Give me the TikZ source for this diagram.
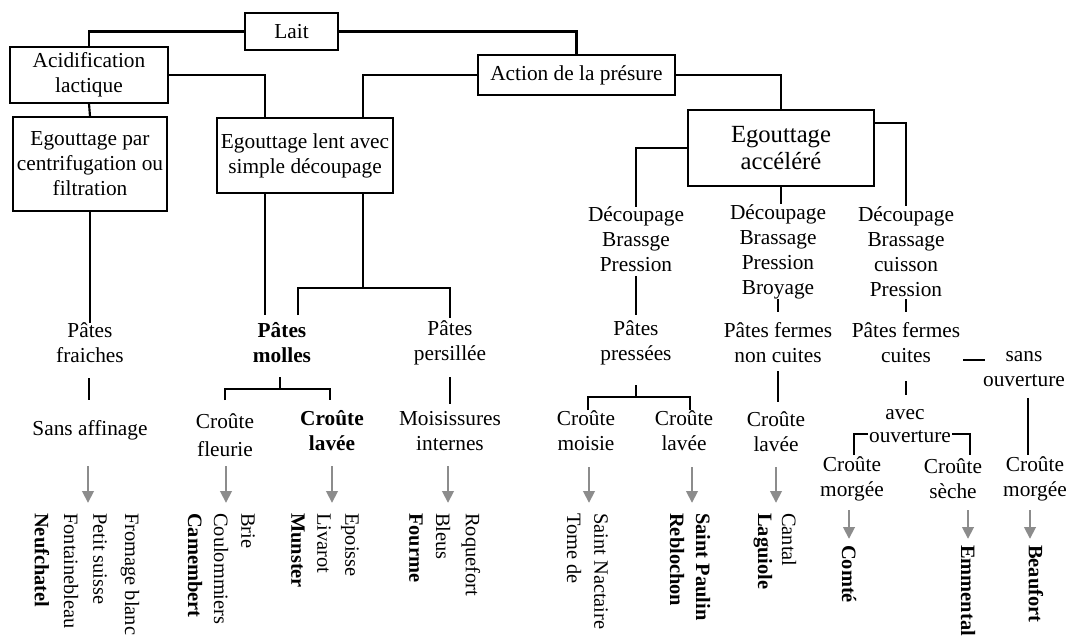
\documentclass[tikz,border=0pt]{standalone}
\usepackage{fontspec}
\setmainfont{Liberation Serif}
\usetikzlibrary{arrows.meta}
\begin{document}
\begin{tikzpicture}[x=0.75pt,y=-0.75pt,
  fnt/.style={font=\fontsize{16}{18.75}\selectfont},
  box/.style={draw, line width=1.1pt, align=center, inner sep=0pt, fnt},
  txt/.style={align=center, inner sep=0pt, fnt},
  rot/.style={rotate=-90, anchor=west, inner sep=0pt, font=\fontsize{15.3}{18}\selectfont},
  rotb/.style={rot, font=\fontsize{15.3}{18}\selectfont\bfseries},
  conn/.style={line width=1.6pt},
  tick/.style={line width=1.3pt},
  arr/.style={draw={rgb,255:red,140;green,140;blue,140}, line width=2.2pt, -{Triangle[length=9pt,width=8.5pt]}}
]
\useasboundingbox (0,0) rectangle (1072,639);
% boxes
\node[box, minimum width=70pt, minimum height=27.75pt] (lait) at (291.5,31.5) {Lait};
\node[box, minimum width=118.5pt, minimum height=42pt] (acid) at (89,75) {Acidification\\lactique};
\node[box, minimum width=147.75pt, minimum height=30pt] (action) at (576.5,75) {Action de la présure};
\node[box, minimum width=115.5pt, minimum height=70.5pt] (epar) at (90,164) {Egouttage par\\centrifugation ou\\filtration};
\node[box, minimum width=132pt, minimum height=56.25pt] (elent) at (305,155.5) {Egouttage lent avec\\simple découpage};
\node[box, minimum width=139.5pt, minimum height=57pt, font=\fontsize{18.5}{20}\selectfont] (eacc) at (781,148) {Egouttage\\accéléré};

% top connectors
\draw[conn] (lait.west) -| (acid.north);
\draw[conn] (lait.east) -| (action.north);
\draw[conn] (acid.south) -- (epar.north);
\coordinate (k1) at (265,118);
\draw[conn] (acid.east) -| (k1);
\coordinate (k2) at (363,118);
\draw[conn] (action.west) -| (k2);
\draw[conn] (action.east) -| (eacc.north);

% left column
\node[txt] (pfr) at (90,343) {Pâtes\\fraiches};
\node[txt] (saff) at (90,430) {Sans affinage};
\draw[conn] (epar.south) -- (pfr.north);
\coordinate (t1a) at (89,378); \coordinate (t1b) at (89,400);
\draw[tick] (t1a) -- (t1b);
\coordinate (a1a) at (88,466); \coordinate (a1b) at (88,503);
\draw[arr] (a1a) -- (a1b);
\node[rotb] (neuf) at (42,513) {Neufchatel};
\node[rot] (font) at (71,513) {Fontainebleau};
\node[rot] (psui) at (100,513) {Petit suisse};
\node[rot] (fbla) at (130,513) {Fromage blanc};

% middle
\node[txt, font=\fontsize{16}{18.75}\selectfont\bfseries] (pmol) at (282,343) {Pâtes\\molles};
\node[txt] (ppers) at (450,343) {Pâtes\\persillée};
\coordinate (e1) at (265,193); \coordinate (e1b) at (265,315);
\draw[conn] (e1) -- (e1b);
\coordinate (e2) at (363,193); \coordinate (e3) at (363,288);
\coordinate (j2) at (450,288);
\coordinate (j1b) at (298,315); \coordinate (j2b) at (450,318);
\draw[conn] (e2) -- (e3);
\draw[conn] (j1b) |- (j2) -- (j2b);

\coordinate (m0) at (280,377); \coordinate (m1) at (280,389);
\coordinate (m2) at (225,400); \coordinate (m3) at (330,400);
\draw[tick] (m0) -- (m1);
\draw[tick] (m2) |- (m1) -| (m3);

\node[txt, font=\fontsize{16}{21}\selectfont] (cfl) at (225,435) {Croûte\\fleurie};
\node[txt, font=\fontsize{16}{18.75}\selectfont\bfseries] (clav) at (332,431) {Croûte\\lavée};
\node[txt] (mois) at (450,431) {Moisissures\\internes};
\coordinate (p0) at (450,377); \coordinate (p1) at (450,404);
\draw[conn] (p0) -- (p1);

\coordinate (a2a) at (226,466); \coordinate (a2b) at (226,503);
\coordinate (a3a) at (332,466); \coordinate (a3b) at (332,503);
\coordinate (a4a) at (448,466); \coordinate (a4b) at (448,503);
\draw[arr] (a2a) -- (a2b);
\draw[arr] (a3a) -- (a3b);
\draw[arr] (a4a) -- (a4b);

\node[rotb] (camb) at (195,513) {Camembert};
\node[rot] (coul) at (221,513) {Coulommiers};
\node[rot] (brie) at (248,513) {Brie};
\node[rotb] (muns) at (298,513) {Munster};
\node[rot] (liva) at (324,513) {Livarot};
\node[rot] (epoi) at (350,513) {Epoisse};
\node[rotb] (four) at (416,513) {Fourme};
\node[rot] (bleu) at (443,513) {Bleus};
\node[rot] (roqu) at (471,513) {Roquefort};

% right: three process columns
\node[txt] (col1) at (636,239.5) {Découpage\\Brassge\\Pression};
\node[txt] (col2) at (778,251.5) {Découpage\\Brassage\\Pression\\Broyage};
\node[txt] (col3) at (906,251.5) {Découpage\\Brassage\\cuisson\\Pression};
\draw[conn] (eacc.west) -| (col1.north);
\draw[conn] (eacc.south) -- (eacc.south |- col2.north);
\coordinate (k4) at (874,123);
\draw[conn] (k4) -| (col3.north);

% col1 branch
\node[txt] (ppres) at (636,343) {Pâtes\\pressées};
\coordinate (q0) at (636,276); \coordinate (q1) at (636,315);
\draw[tick] (q0) -- (q1);
\coordinate (r0) at (636,385); \coordinate (r1) at (636,397);
\coordinate (r2) at (588,410); \coordinate (r3) at (690,410);
\draw[tick] (r0) -- (r1);
\draw[tick] (r2) |- (r1) -| (r3);
\node[txt] (cmoi) at (586,431) {Croûte\\moisie};
\node[txt] (clav2) at (684,431) {Croûte\\lavée};
\coordinate (a5a) at (589,467); \coordinate (a5b) at (589,503);
\coordinate (a6a) at (692,467); \coordinate (a6b) at (692,503);
\draw[arr] (a5a) -- (a5b);
\draw[arr] (a6a) -- (a6b);
\node[rot] (tome) at (574,513) {Tome de};
\node[rot] (snac) at (601,513) {Saint Nactaire};
\node[rotb] (rebl) at (677,513) {Reblochon};
\node[rotb] (spau) at (703,513) {Saint Paulin};

% col2 branch
\node[txt] (pfnc) at (778,343) {Pâtes fermes\\non cuites};
\coordinate (s0) at (778,299); \coordinate (s1) at (778,312);
\draw[tick] (s0) -- (s1);
\coordinate (s2) at (778,371); \coordinate (s3) at (778,402);
\draw[conn] (s2) -- (s3);
\node[txt] (clav3) at (776,432) {Croûte\\lavée};
\coordinate (a7a) at (776,467); \coordinate (a7b) at (776,503);
\draw[arr] (a7a) -- (a7b);
\node[rotb] (lagu) at (763,513) {Laguiole};
\node[rot] (cant) at (789,513) {Cantal};

% col3 branch
\node[txt] (pfc) at (906,343) {Pâtes fermes\\cuites};
\coordinate (u0) at (906,299); \coordinate (u1) at (906,312);
\draw[tick] (u0) -- (u1);
\node[txt] (sans) at (1024,369.5) {sans\\ouverture};
\coordinate (d0) at (963,360); \coordinate (d1) at (985,360);
\draw[tick] (d0) -- (d1);
\coordinate (v0) at (906,381); \coordinate (v1) at (906,395);
\draw[tick] (v0) -- (v1);
\node[txt] (avec) at (905,415) {avec};
\coordinate (b0) at (854,455); \coordinate (b1) at (970,455);
\draw[tick] (b0) |- (910,434) -| (b1);
\node[txt, fill=white, inner xsep=1pt] (ouv) at (910,437) {ouverture};
\coordinate (w0) at (1028,398); \coordinate (w1) at (1028,455);
\draw[tick] (w0) -- (w1);
\node[txt] (cmor1) at (852,478.5) {Croûte\\morgée};
\node[txt] (csec) at (953,478.5) {Croûte\\sèche};
\node[txt] (cmor2) at (1035,478.5) {Croûte\\morgée};
\coordinate (a8a) at (849,510); \coordinate (a8b) at (849,539);
\coordinate (a9a) at (968,510); \coordinate (a9b) at (968,539);
\coordinate (a10a) at (1030,510); \coordinate (a10b) at (1030,539);
\draw[arr] (a8a) -- (a8b);
\draw[arr] (a9a) -- (a9b);
\draw[arr] (a10a) -- (a10b);
\node[rotb] (comt) at (849,545) {Comté};
\node[rotb] (emme) at (968,545) {Emmental};
\node[rotb] (beau) at (1036,545) {Beaufort};
\end{tikzpicture}
\end{document}
